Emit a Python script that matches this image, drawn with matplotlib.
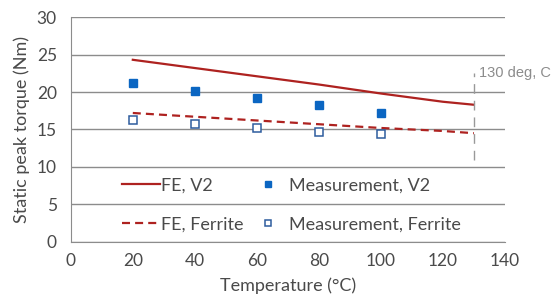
import matplotlib
matplotlib.use('Agg')
import matplotlib.pyplot as plt

plt.rcParams['font.family'] = ['Lato', 'DejaVu Sans']

# FE simulation curves
fe_temp = [20, 40, 60, 80, 100, 120, 130]
fe_v2 = [24.3, 23.2, 22.1, 21.0, 19.8, 18.7, 18.3]
fe_ferrite = [17.2, 16.7, 16.2, 15.7, 15.2, 14.8, 14.5]

# measurements
meas_temp = [20, 40, 60, 80, 100]
meas_v2 = [21.2, 20.2, 19.2, 18.3, 17.2]
meas_ferrite = [16.3, 15.7, 15.2, 14.7, 14.4]

limit_temp = 130
limit_range = [10.9, 22.5]
limit_label = '130 deg, C'

text_col = '#4A4A4A'
red = '#AE2220'
blue = '#0B66C2'

fig = plt.figure(figsize=(5.53, 3.05), dpi=100)
ax = fig.add_axes([0.128, 0.207, 0.785, 0.737])

ax.plot(fe_temp, fe_v2, color=red, lw=1.6, label='FE, V2')
ax.plot(fe_temp, fe_ferrite, color=red, lw=1.6, ls=(0, (3.6, 2.3)), label='FE, Ferrite')
ax.plot(meas_temp, meas_v2, ls='none', marker='s', ms=5.5, color=blue, label='Measurement, V2')
ax.plot(meas_temp, meas_ferrite, ls='none', marker='s', ms=5.5, mfc='white',
        mec='#2E5C9E', mew=1.1, label='Measurement, Ferrite')

ax.vlines(limit_temp, limit_range[0], limit_range[1], color='#999999', lw=1.0,
          linestyles=(0, (7, 5)))
ax.text(limit_temp + 1.5, limit_range[1], limit_label, color='#8C8C8C', fontsize=10.5,
        family=['Liberation Sans', 'DejaVu Sans'], va='center', ha='left')

ax.set_xlim(0, 140)
ax.set_ylim(0, 30)
ax.set_xticks(range(0, 141, 20))
ax.set_yticks(range(0, 31, 5))
ax.grid(axis='y', color='#8C8C8C', lw=1.0)
ax.set_axisbelow(True)
for s in ['top', 'right']:
    ax.spines[s].set_visible(False)
for s in ['left', 'bottom']:
    ax.spines[s].set_color('#8C8C8C')
ax.tick_params(length=0, labelsize=12.5, colors=text_col, pad=8)
ax.tick_params(axis='y', pad=10)

ax.set_xlabel('Temperature (°C)', fontsize=13, color=text_col, labelpad=6)
ax.set_ylabel('Static peak torque (Nm)', fontsize=13, color=text_col, labelpad=5)

leg = ax.legend(ncol=2, loc='lower left', bbox_to_anchor=(0.08, -0.03), frameon=False,
                fontsize=13, labelcolor=text_col, handlelength=2.1, handletextpad=0.1,
                columnspacing=0.3, labelspacing=1.25, markerscale=0.7)

fig.savefig('out.png', dpi=100)
